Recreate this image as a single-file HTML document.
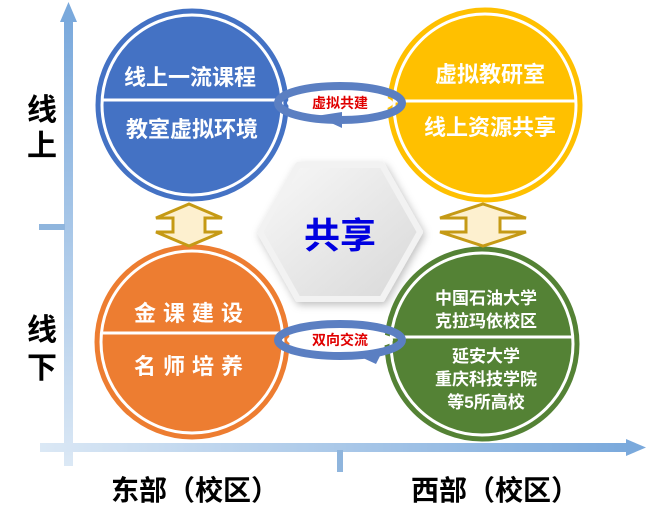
<!DOCTYPE html>
<html><head><meta charset="utf-8"><style>
html,body{margin:0;padding:0;background:#fff;width:646px;height:526px;overflow:hidden}
text{font-family:"Liberation Sans","Noto Sans CJK SC",sans-serif;font-weight:bold}
</style></head><body>
<svg width="646" height="526" viewBox="0 0 646 526" xmlns="http://www.w3.org/2000/svg">
<defs>
<linearGradient id="vax" x1="0" y1="0" x2="0" y2="1"><stop offset="0" stop-color="#7aa9dc"/><stop offset="1" stop-color="#dbe8f5"/></linearGradient>
<linearGradient id="hax" x1="0" y1="0" x2="1" y2="0"><stop offset="0" stop-color="#dbe8f5"/><stop offset="1" stop-color="#7aa9dc"/></linearGradient>
<linearGradient id="hex" x1="0" y1="0" x2="1" y2="1"><stop offset="0" stop-color="#f8f8f8"/><stop offset="1" stop-color="#d8d8d8"/></linearGradient>
<filter id="sh" x="-20%" y="-20%" width="140%" height="140%"><feDropShadow dx="2" dy="3" stdDeviation="4" flood-color="#000" flood-opacity="0.25"/></filter>
</defs>
<!-- axes -->
<rect x="64" y="18" width="9" height="448" fill="url(#vax)"/>
<polygon points="68.5,2 60,22 77,22" fill="#7aa9dc"/>
<rect x="40" y="443" width="590" height="9" fill="url(#hax)"/>
<polygon points="646,447.5 626,439 626,456" fill="#7aa9dc"/>
<rect x="39" y="224" width="26" height="6" fill="#8fb5dd"/>
<rect x="337" y="450" width="6" height="22" fill="#8fb5dd"/>
<!-- axis labels -->
<text x="42" y="120" font-size="30" text-anchor="middle" style="font-weight:600">线</text>
<text x="42" y="156" font-size="30" text-anchor="middle" style="font-weight:600">上</text>
<text x="42" y="340" font-size="30" text-anchor="middle" style="font-weight:600">线</text>
<text x="42" y="378" font-size="30" text-anchor="middle" style="font-weight:600">下</text>
<text x="195" y="500" font-size="28" text-anchor="middle">东部（校区）</text>
<text x="495" y="500" font-size="28" text-anchor="middle">西部（校区）</text>
<!-- hexagon -->
<polygon points="298,165 382,165 420,232 382,299 298,299 260,232" fill="url(#hex)" stroke="#f2f2f2" stroke-width="6" stroke-linejoin="round" filter="url(#sh)"/>
<text x="340" y="248" font-size="36" fill="#0000e0" text-anchor="middle">共享</text>
<!-- circles -->
<g stroke="#fff" stroke-width="3">
<circle cx="192" cy="105" r="95" fill="#4472c4" stroke="#4472c4"/>
<circle cx="192" cy="105" r="90" fill="#4472c4"/>
<line x1="102" y1="100" x2="282" y2="100"/>
<circle cx="485" cy="105" r="96" fill="#ffc000" stroke="#ffc000"/>
<circle cx="485" cy="105" r="91" fill="#ffc000"/>
<line x1="394" y1="101" x2="576" y2="101"/>
<circle cx="192" cy="342" r="96" fill="#ed7d31" stroke="#ed7d31"/>
<circle cx="192" cy="342" r="91" fill="#ed7d31"/>
<line x1="101" y1="333" x2="283" y2="333"/>
<circle cx="482" cy="344" r="96" fill="#548235" stroke="#548235"/>
<circle cx="482" cy="344" r="91" fill="#548235"/>
<line x1="391" y1="337" x2="573" y2="337"/>
</g>
<g fill="#fff" text-anchor="middle">
<text x="190" y="85" font-size="22">线上一流课程</text>
<text x="192" y="137" font-size="22">教室虚拟环境</text>
<text x="490" y="82" font-size="22">虚拟教研室</text>
<text x="490" y="135" font-size="22">线上资源共享</text>
<text x="192" y="321" font-size="22" letter-spacing="7">金课建设</text>
<text x="192" y="374" font-size="22" letter-spacing="7">名师培养</text>
<text x="486" y="304" font-size="17">中国石油大学</text>
<text x="486" y="327" font-size="17">克拉玛依校区</text>
<text x="486" y="362" font-size="17">延安大学</text>
<text x="486" y="385" font-size="17">重庆科技学院</text>
<text x="486" y="408" font-size="17">等5所高校</text>
</g>
<!-- double arrows -->
<g fill="#fdf0cf" stroke="#c59a15" stroke-width="3" stroke-linejoin="miter">
<polygon points="189,204 222,218 205,218 205,232 222,232 189,246 156,232 173,232 173,218 156,218"/>
<polygon points="483,204 526,218 500,218 500,232 526,232 483,246 440,232 466,232 466,218 440,218"/>
</g>
<!-- rotation rings -->
<g fill="none" stroke="#5b7fc2" stroke-width="8">
<ellipse cx="340" cy="103" rx="62" ry="17"/>
<ellipse cx="340" cy="340" rx="62" ry="16"/>
</g>
<ellipse cx="340" cy="103" rx="53" ry="11" fill="#fff"/>
<ellipse cx="340" cy="340" rx="53" ry="10" fill="#fff"/>
<polygon points="316,116 342,112 342,128" fill="#5b7fc2"/>
<polygon points="350,352 382,352 376,364" fill="#5b7fc2"/>
<text x="340" y="108" font-size="14" fill="#e00000" text-anchor="middle">虚拟共建</text>
<text x="340" y="345" font-size="14" fill="#e00000" text-anchor="middle">双向交流</text>
</svg>
</body></html>
